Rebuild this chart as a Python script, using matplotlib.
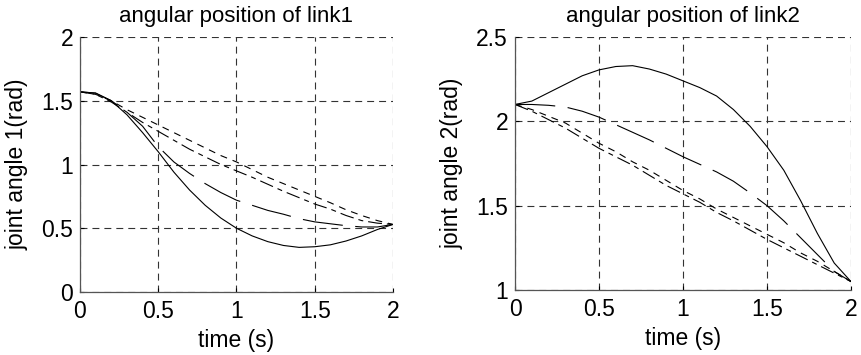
import matplotlib

matplotlib.use("Agg")
import matplotlib.pyplot as plt

# time samples (s)
t = [0.0, 0.1, 0.2, 0.3, 0.4, 0.5, 0.6, 0.7, 0.8, 0.9, 1.0,
     1.1, 1.2, 1.3, 1.4, 1.5, 1.6, 1.7, 1.8, 1.9, 2.0]

# link 1 (rad)
q1_solid = [1.57, 1.56, 1.50, 1.39, 1.25, 1.10, 0.94, 0.80, 0.68, 0.58, 0.50,
            0.44, 0.395, 0.365, 0.35, 0.355, 0.37, 0.40, 0.44, 0.49, 0.53]
q1_longdash = [1.57, 1.56, 1.50, 1.41, 1.30, 1.14, 1.02, 0.93, 0.85, 0.78, 0.72,
               0.68, 0.64, 0.61, 0.575, 0.55, 0.535, 0.52, 0.51, 0.51, 0.53]
q1_dash_a = [1.57, 1.55, 1.50, 1.43, 1.37, 1.31, 1.25, 1.19, 1.13, 1.07, 1.02,
             0.96, 0.90, 0.85, 0.80, 0.75, 0.70, 0.645, 0.60, 0.56, 0.53]
q1_dash_b = [1.57, 1.55, 1.49, 1.41, 1.33, 1.26, 1.19, 1.12, 1.06, 1.00, 0.95,
             0.90, 0.845, 0.79, 0.74, 0.69, 0.65, 0.60, 0.56, 0.54, 0.53]

# link 2 (rad)
q2_solid = [2.10, 2.12, 2.17, 2.22, 2.27, 2.305, 2.325, 2.33, 2.31, 2.28, 2.24,
            2.20, 2.15, 2.07, 1.97, 1.85, 1.71, 1.53, 1.335, 1.16, 1.05]
q2_longdash = [2.10, 2.10, 2.095, 2.085, 2.06, 2.025, 1.98, 1.935, 1.89, 1.84, 1.79,
               1.745, 1.70, 1.645, 1.575, 1.50, 1.41, 1.31, 1.21, 1.11, 1.05]
q2_dash_a = [2.10, 2.07, 2.03, 1.99, 1.93, 1.87, 1.82, 1.76, 1.71, 1.65, 1.59,
             1.54, 1.48, 1.43, 1.38, 1.33, 1.28, 1.22, 1.17, 1.11, 1.05]
q2_dash_b = [2.10, 2.06, 2.01, 1.96, 1.90, 1.84, 1.79, 1.74, 1.68, 1.62, 1.57,
             1.52, 1.46, 1.41, 1.355, 1.30, 1.25, 1.20, 1.15, 1.10, 1.05]

xticks = [0, 0.5, 1, 1.5, 2]
xticklabels = ["0", "0.5", "1", "1.5", "2"]
yticks1 = [0, 0.5, 1, 1.5, 2]
yticklabels1 = ["0", "0.5", "1", "1.5", "2"]
yticks2 = [1, 1.5, 2, 2.5]
yticklabels2 = ["1", "1.5", "2", "2.5"]

plt.rcParams["font.family"] = ["Liberation Sans", "DejaVu Sans"]
plt.rcParams["lines.scale_dashes"] = False

STYLES = [
    dict(ls="-"),
    dict(ls=(0, (29, 9))),
    dict(ls=(0, (5, 4.3))),
    dict(ls=(0, (10, 3.6, 3.6, 3.6))),
]

W, H = 862, 355
fig = plt.figure(figsize=(W / 100, H / 100), dpi=100)


def panel(rect, series, yticks, yticklabels, ylim, title, ylabel):
    l, r, top, bot = rect
    ax = fig.add_axes([l / W, (H - bot) / H, (r - l) / W, (bot - top) / H])
    for y, st in zip(series, STYLES):
        ax.plot(t, y, color="black", lw=0.8, **st)
    ax.set_xlim(0, 2)
    ax.set_ylim(*ylim)
    ax.set_xticks(xticks, xticklabels)
    ax.set_yticks(yticks, yticklabels)
    ax.grid(True, color="#333333", lw=0.8, ls=(0, (5, 3.6)))
    for s in ("top", "right"):
        ax.spines[s].set_visible(False)
    for s in ("left", "bottom"):
        ax.spines[s].set_color("#555555")
        ax.spines[s].set_linewidth(0.9)
    ax.tick_params(direction="in", length=3, labelsize=16.5)
    ax.tick_params(axis="x", pad=6)
    ax.tick_params(axis="y", pad=5)
    ax.set_title(title, fontsize=16, pad=11)
    ax.set_xlabel("time (s)", fontsize=16.5, labelpad=4)
    ax.set_ylabel(ylabel, fontsize=16.5, labelpad=9)
    return ax


panel((80, 393, 37, 292), [q1_solid, q1_longdash, q1_dash_a, q1_dash_b],
      yticks1, yticklabels1, (0, 2), "angular position of link1", "joint angle 1(rad)")
panel((515, 851, 37, 290), [q2_solid, q2_longdash, q2_dash_a, q2_dash_b],
      yticks2, yticklabels2, (1, 2.5), "angular position of link2", "joint angle 2(rad)")

fig.savefig("out.png", dpi=100)
